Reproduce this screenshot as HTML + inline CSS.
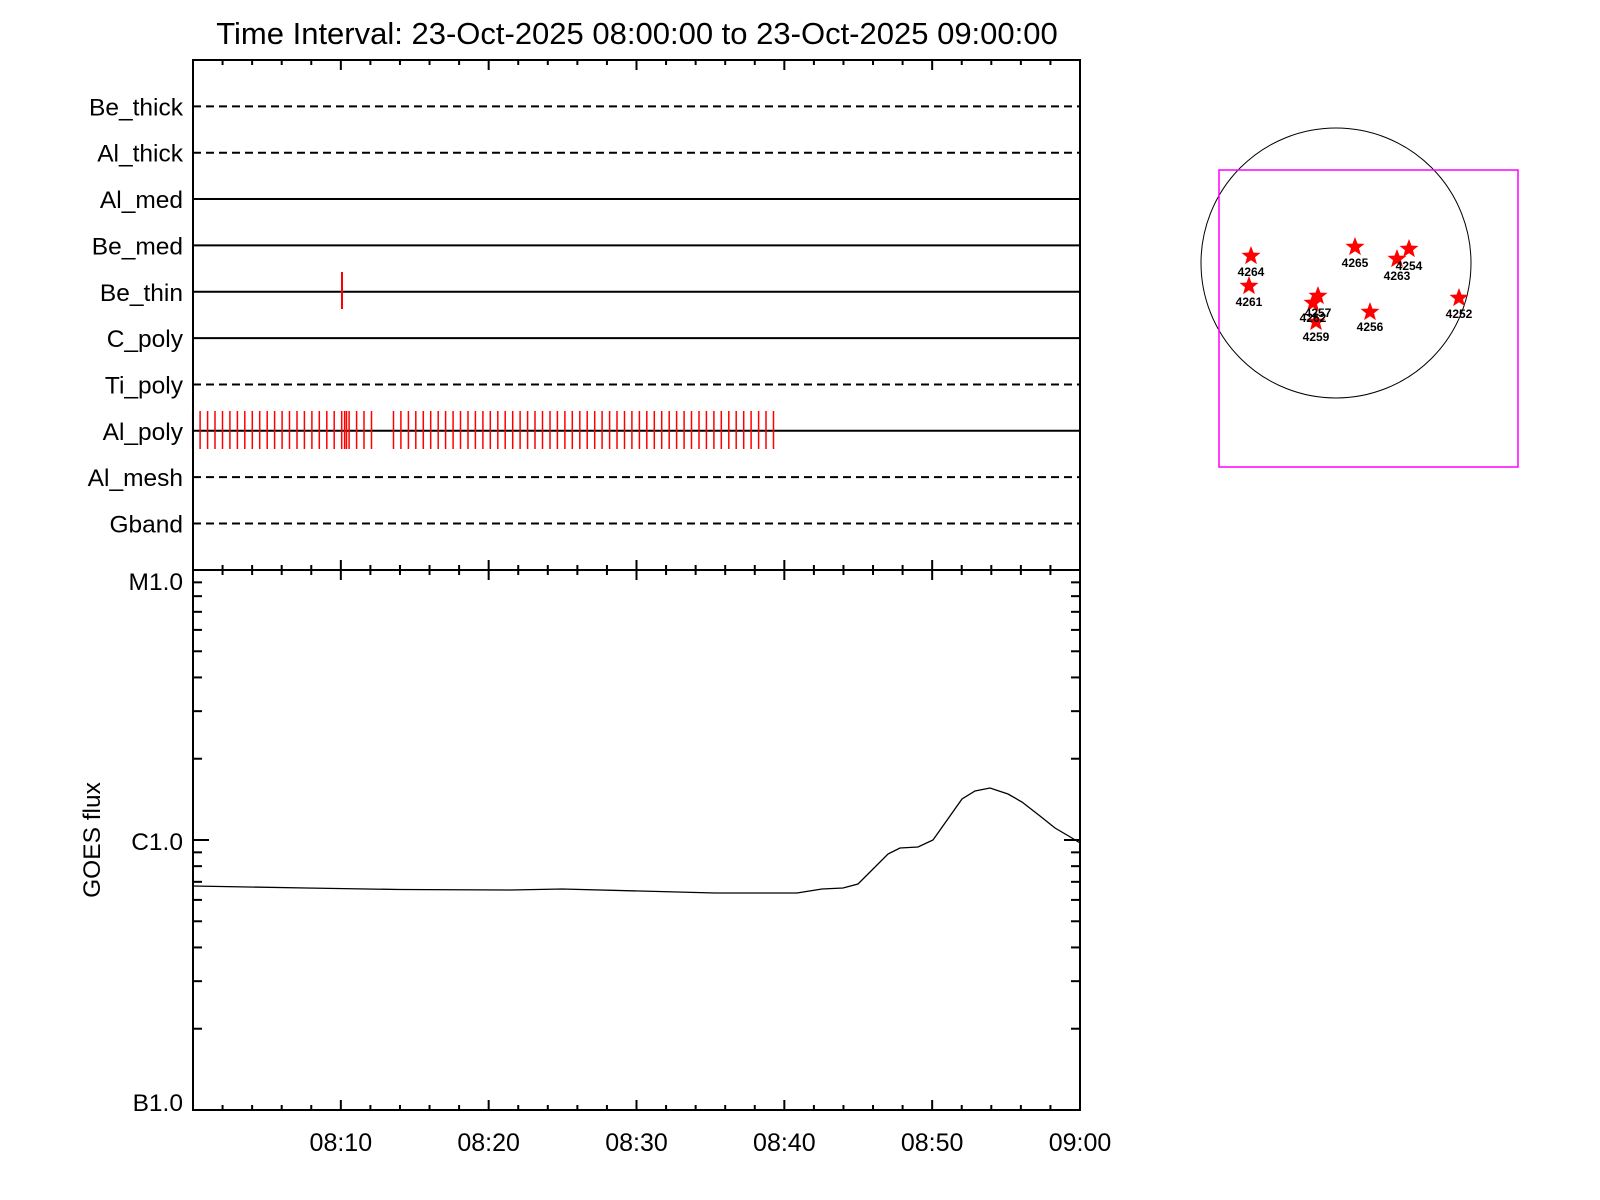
<!DOCTYPE html>
<html><head><meta charset="utf-8"><style>
html,body{margin:0;padding:0;background:#fff;width:1600px;height:1200px;overflow:hidden}
svg{display:block}
text{font-family:"Liberation Sans",sans-serif;fill:#000}
</style></head><body>
<svg id="s" width="1600" height="1200" xmlns="http://www.w3.org/2000/svg"></svg>
<script>
var s=document.getElementById('s'),h='';
var L=193,R=1080,T=60,M=570,B=1110;
function X(min){return L+(R-L)*min/60;}
function ln(x1,y1,x2,y2,c,w,d){h+='<line x1="'+x1+'" y1="'+y1+'" x2="'+x2+'" y2="'+y2+'" stroke="'+(c||'#000')+'" stroke-width="'+(w||2)+'"'+(d?' stroke-dasharray="'+d+'"':'')+'/>';}
function tx(x,y,t,sz,a,extra){h+='<text x="'+x+'" y="'+y+'" font-size="'+sz+'" text-anchor="'+(a||'start')+'"'+(extra||'')+'>'+t+'</text>';}
tx(637,44,'Time Interval: 23-Oct-2025 08:00:00 to 23-Oct-2025 09:00:00',31,'middle');
var rows=[['Be_thick',1],['Al_thick',1],['Al_med',0],['Be_med',0],['Be_thin',0],['C_poly',0],['Ti_poly',1],['Al_poly',0],['Al_mesh',1],['Gband',1]];
rows.forEach(function(r,i){var y=60+46.35*(i+1);
 ln(L,y,R,y,'#000',2,r[1]?'8,5':null); tx(183,y+9,r[0],24.5,'end');});
ln(342,272,342,309,'#f00',2);
var xs=[];for(var x=192.7;x<=372;x+=7.45)xs.push(x);xs.push(344.6,346.5);
for(var x=393.5;x<=780;x+=7.45)xs.push(x);
xs.forEach(function(x){ln(x.toFixed(1),411,x.toFixed(1),449,'#f00',1.5);});
h+='<rect x="'+L+'" y="'+T+'" width="'+(R-L)+'" height="'+(B-T)+'" fill="none" stroke="#000" stroke-width="2"/>';
ln(L,M,R,M);
for(var m=0;m<=60;m+=2){var x=X(m),maj=m%10==0,l=maj?10:5;
 ln(x,T,x,T+l);ln(x,M-l,x,M+l);ln(x,B,x,B-l);}
['08:10','08:20','08:30','08:40','08:50','09:00'].forEach(function(t,i){tx(X((i+1)*10),1151,t,25,'middle');});
for(var d=0;d<2;d++)for(var k=1;k<10;k++){var y=B-270*(d+Math.log10(k));var l=k==1?16:9;
 ln(L,y,L+l,y);ln(R,y,R-l,y);}
tx(183,590,'M1.0',24.5,'end');tx(183,850,'C1.0',24.5,'end');tx(183,1111,'B1.0',24.5,'end');
tx(100,840,'GOES flux',24.5,'middle',' transform="rotate(-90 100 840)"');
var p=[[193,886],[306,888],[400,889.5],[511,890],[562,889],[715,893],[797,893],[822,889],[843,888],[858,884],[888,854],[900,848],[918,847],[933,840],[962,799],[975,791],[990,788],[1008,794],[1022,802],[1040,816],[1055,828],[1072,838],[1080,843]];
h+='<polyline fill="none" stroke="#000" stroke-width="1.3" points="'+p.map(function(a){return a.join(',')}).join(' ')+'"/>';
h+='<circle cx="1336" cy="263" r="135" fill="none" stroke="#000" stroke-width="1"/>';
h+='<rect x="1219" y="170" width="299" height="297" fill="none" stroke="#f0f" stroke-width="1.5"/>';
function star(cx,cy,r){var pts=[];for(var i=0;i<10;i++){var a=-Math.PI/2+i*Math.PI/5,rr=i%2?r*0.42:r;pts.push((cx+rr*Math.cos(a)).toFixed(1)+','+(cy+rr*Math.sin(a)).toFixed(1));}
 h+='<polygon points="'+pts.join(' ')+'" fill="#f00"/>';}
var st=[[1251,256,'4264',276],[1249,286,'4261',306],[1355,247,'4265',267],[1397,259,'4263',280],[1409,249,'4254',270],[1318,296,'4257',317],[1313,303,'4262',322],[1316,322,'4259',341],[1370,312,'4256',331],[1459,298,'4252',318]];
st.forEach(function(a){star(a[0],a[1],10);});
st.forEach(function(a){tx(a[0],a[3],a[2],12,'middle',' font-weight="bold"');});
s.innerHTML=h;
</script>
</body></html>
